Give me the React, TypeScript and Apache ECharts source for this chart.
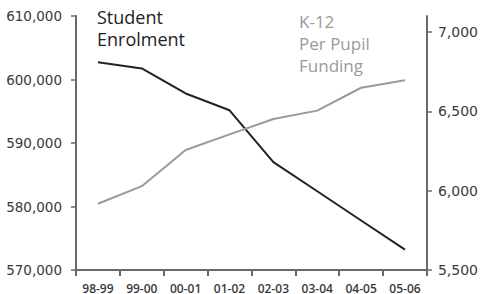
import React, { useEffect, useRef } from "react";
import * as echarts from "echarts";

const categories = ["98-99", "99-00", "00-01", "01-02", "02-03", "03-04", "04-05", "05-06"];
const enrolment = [602700, 601750, 597800, 595150, 587000, 582400, 577800, 573200];
const funding = [5917, 6028, 6256, 6354, 6451, 6504, 6648, 6695];
const enrolmentLines = ["Student", "Enrolment"];
const fundingLines = ["K-12", "Per Pupil", "Funding"];

const axisColor = "#6a6a6a";
const labelColor = "#3a3a3a";

export default function App() {
  const ref = useRef<HTMLDivElement>(null);
  useEffect(() => {
    if (!ref.current) return;
    const chart = echarts.init(ref.current, undefined, { renderer: "svg" });
    const fmt = (v: number) => v.toLocaleString("en-US");
    const enrolText = enrolmentLines.map((t, i) => ({
      type: "text",
      left: 97,
      top: 7 + i * 21.5,
      style: { text: t, fill: "#222222", font: "18px 'Open Sans'", lineHeight: 20 },
    }));
    const fundText = fundingLines.map((t, i) => ({
      type: "text",
      left: 299,
      top: 11 + i * 22,
      style: { text: t, fill: "#9a9a9a", font: "17px 'Open Sans'", lineHeight: 20 },
    }));
    chart.setOption({
      animation: false,
      backgroundColor: "#ffffff",
      grid: { left: 76, right: 53, top: 16, bottom: 24, containLabel: false },
      xAxis: {
        type: "category",
        data: categories,
        boundaryGap: true,
        axisLine: { lineStyle: { color: axisColor, width: 2 } },
        axisTick: { show: true, length: 6, lineStyle: { color: axisColor, width: 2 } },
        axisLabel: {
          margin: 12,
          color: labelColor,
          fontFamily: "Open Sans",
          fontSize: 12,
          fontWeight: 600,
          verticalAlign: "top",
        },
        splitLine: { show: false },
      },
      yAxis: [
        {
          type: "value",
          min: 570000,
          max: 610000,
          interval: 10000,
          position: "left",
          axisLine: { show: true, lineStyle: { color: axisColor, width: 2 } },
          axisTick: { show: true, length: 5, lineStyle: { color: axisColor, width: 1.5 } },
          axisLabel: {
            margin: 14,
            color: labelColor,
            fontFamily: "DejaVu Sans",
            fontSize: 13.5,
            formatter: fmt,
          },
          splitLine: { show: false },
        },
        {
          type: "value",
          min: 5500,
          max: 7100,
          interval: 500,
          position: "right",
          axisLine: { show: true, lineStyle: { color: axisColor, width: 2 } },
          axisTick: { show: true, length: 5, lineStyle: { color: axisColor, width: 1.5 } },
          axisLabel: {
            margin: 11,
            color: labelColor,
            fontFamily: "DejaVu Sans",
            fontSize: 14,
            formatter: fmt,
            showMaxLabel: false,
          },
          splitLine: { show: false },
        },
      ],
      series: [
        {
          name: "Student Enrolment",
          type: "line",
          yAxisIndex: 0,
          data: enrolment,
          symbol: "none",
          lineStyle: { color: "#222222", width: 2 },
        },
        {
          name: "K-12 Per Pupil Funding",
          type: "line",
          yAxisIndex: 1,
          data: funding,
          symbol: "none",
          lineStyle: { color: "#9a9a9a", width: 2 },
        },
      ],
      graphic: [...enrolText, ...fundText],
    });
    return () => chart.dispose();
  }, []);
  return (
    <div
      ref={ref}
      style={{ position: "fixed", left: 0, top: 0, width: 481, height: 294 }}
    />
  );
}
